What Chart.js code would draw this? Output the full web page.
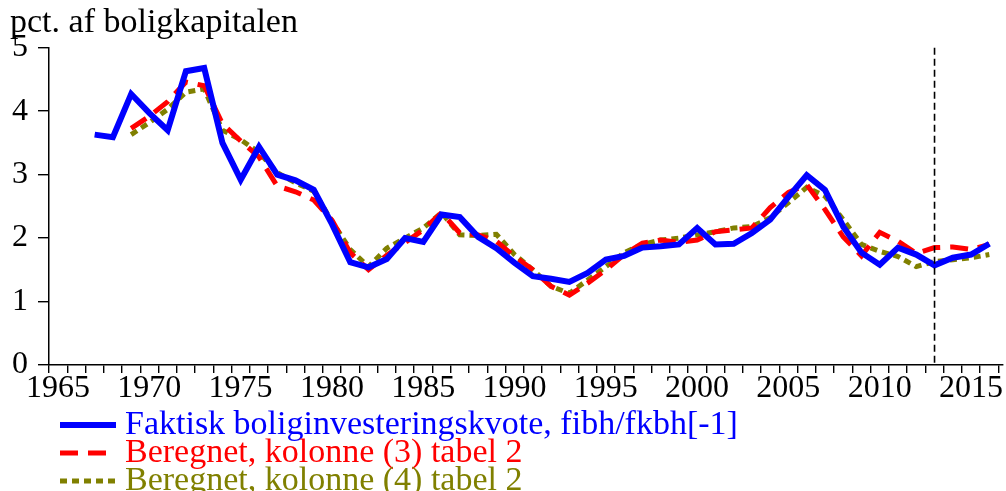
<!DOCTYPE html>
<html>
<head>
<meta charset="utf-8">
<script src="https://cdn.jsdelivr.net/npm/chart.js@4.4.1/dist/chart.umd.min.js"></script>
<style>
  html, body { margin: 0; padding: 0; background: #fff; }
</style>
</head>
<body>
<canvas id="chart" width="1006" height="491"></canvas>
<script>
// annual values, pct. af boligkapitalen
const years = [1967, 1968, 1969, 1970, 1971, 1972, 1973, 1974, 1975, 1976,
  1977, 1978, 1979, 1980, 1981, 1982, 1983, 1984, 1985, 1986,
  1987, 1988, 1989, 1990, 1991, 1992, 1993, 1994, 1995, 1996,
  1997, 1998, 1999, 2000, 2001, 2002, 2003, 2004, 2005, 2006,
  2007, 2008, 2009, 2010, 2011, 2012, 2013, 2014, 2015, 2016];

const faktisk = [3.63, 3.59, 4.27, 3.97, 3.70, 4.63, 4.68, 3.50, 2.92, 3.44,
  3.00, 2.91, 2.76, 2.22, 1.62, 1.54, 1.67, 2.00, 1.94, 2.37,
  2.33, 2.02, 1.84, 1.61, 1.40, 1.36, 1.31, 1.45, 1.66, 1.72,
  1.85, 1.87, 1.90, 2.16, 1.90, 1.91, 2.08, 2.29, 2.65, 2.99,
  2.76, 2.18, 1.77, 1.58, 1.85, 1.74, 1.57, 1.69, 1.74, 1.91];

const kolonne3 = [null, null, 3.73, 3.92, 4.15, 4.46, 4.40, 3.80, 3.53, 3.28,
  2.82, 2.73, 2.60, 2.28, 1.77, 1.50, 1.73, 1.93, 2.13, 2.40,
  2.08, 2.05, 1.95, 1.71, 1.50, 1.24, 1.10, 1.29, 1.50, 1.74,
  1.92, 1.97, 1.93, 1.97, 2.10, 2.13, 2.16, 2.48, 2.72, 2.84,
  2.45, 2.02, 1.72, 2.09, 1.95, 1.76, 1.85, 1.86, 1.82, 1.90];

const kolonne4 = [null, null, 3.63, 3.82, 4.03, 4.30, 4.35, 3.70, 3.55, 3.35,
  3.03, 2.87, 2.74, 2.26, 1.82, 1.55, 1.84, 2.00, 2.16, 2.40,
  2.05, 2.04, 2.06, 1.74, 1.50, 1.24, 1.13, 1.34, 1.55, 1.77,
  1.90, 1.97, 2.00, 2.05, 2.10, 2.16, 2.18, 2.32, 2.56, 2.80,
  2.66, 2.29, 1.90, 1.79, 1.71, 1.55, 1.63, 1.66, 1.69, 1.74];

const seriesLabels = [
  'Faktisk boliginvesteringskvote, fibh/fkbh[-1]',
  'Beregnet, kolonne (3) tabel 2',
  'Beregnet, kolonne (4) tabel 2'
];
const xTickLabels = ['1965', '1970', '1975', '1980', '1985', '1990', '1995', '2000', '2005', '2010', '2015'];
const yTickLabels = ['0', '1', '2', '3', '4', '5'];
const forecastStart = 2013; // dashed vertical line

// each annual value sits in the middle of its year
const toPoints = (vals) => years.map((yr, i) => ({ x: yr + 0.5, y: vals[i] }));

const FONT = "'Liberation Serif', 'Times New Roman', serif";
Chart.defaults.font.family = FONT;
Chart.defaults.color = '#000';

const markerLine = {
  id: 'markerLine',
  afterDatasetsDraw(chart) {
    const { ctx, chartArea, scales } = chart;
    const x = scales.x.getPixelForValue(forecastStart + 0.5);
    ctx.save();
    ctx.strokeStyle = '#000';
    ctx.lineWidth = 1.6;
    ctx.setLineDash([7, 4]);
    ctx.beginPath();
    ctx.moveTo(x, chartArea.top);
    ctx.lineTo(x, chartArea.bottom);
    ctx.stroke();
    ctx.restore();
  }
};

// legend: one row per series under the x axis, text in series colour
const rowLegend = {
  id: 'rowLegend',
  afterDraw(chart) {
    const { ctx, chartArea } = chart;
    ctx.save();
    ctx.font = '34px ' + FONT;
    ctx.textBaseline = 'middle';
    ctx.textAlign = 'left';
    chart.data.datasets.forEach((ds, i) => {
      const y = chartArea.bottom + 60 + i * 28;
      ctx.strokeStyle = ds.borderColor;
      ctx.lineWidth = ds.borderWidth;
      ctx.lineCap = 'butt';
      ctx.setLineDash(ds.borderDash);
      ctx.beginPath();
      ctx.moveTo(60, y);
      ctx.lineTo(116, y);
      ctx.stroke();
      ctx.fillStyle = ds.borderColor;
      ctx.fillText(ds.label, 125, y);
    });
    ctx.restore();
  }
};

new Chart(document.getElementById('chart'), {
  type: 'line',
  data: {
    datasets: [
      {
        label: seriesLabels[0],
        data: toPoints(faktisk),
        borderColor: '#0000ff',
        backgroundColor: '#0000ff',
        borderWidth: 6,
        borderDash: []
      },
      {
        label: seriesLabels[1],
        data: toPoints(kolonne3),
        borderColor: '#ff0000',
        backgroundColor: '#ff0000',
        borderWidth: 5,
        borderDash: [18, 10]
      },
      {
        label: seriesLabels[2],
        data: toPoints(kolonne4),
        borderColor: '#808000',
        backgroundColor: '#808000',
        borderWidth: 5,
        borderDash: [7, 5]
      }
    ]
  },
  options: {
    responsive: false,
    animation: false,
    layout: { padding: { left: 10, right: 3, top: 0, bottom: 86 } },
    elements: {
      point: { radius: 0, hoverRadius: 0 },
      line: { tension: 0, borderCapStyle: 'butt', borderJoinStyle: 'miter' }
    },
    scales: {
      x: {
        type: 'linear',
        min: 1965,
        max: 2017.25,
        afterBuildTicks: (scale) => {
          const t = [];
          for (let yr = 1965; yr <= 2017; yr++) t.push({ value: yr });
          scale.ticks = t;
        },
        ticks: {
          autoSkip: false,
          maxRotation: 0,
          minRotation: 0,
          padding: 0,
          labelOffset: 9,
          color: '#000',
          font: { size: 32, lineHeight: 1 },
          callback: (v) => xTickLabels.includes(String(v)) ? String(v) : ''
        },
        grid: { drawOnChartArea: false, drawTicks: true, tickLength: 8, color: '#000', lineWidth: 1.4 },
        border: { display: true, color: '#000', width: 1.5 }
      },
      y: {
        min: 0,
        max: 5,
        afterFit: (scale) => { scale.width = 39; },
        ticks: {
          stepSize: 1,
          padding: 10,
          color: '#000',
          font: { size: 32 },
          callback: (v) => yTickLabels[v] ?? ''
        },
        grid: { drawOnChartArea: false, drawTicks: true, tickLength: 11, color: '#000', lineWidth: 1.4 },
        border: { display: true, color: '#000', width: 1.5 }
      }
    },
    plugins: {
      title: {
        display: true,
        text: 'pct. af boligkapitalen',
        align: 'start',
        color: '#000',
        font: { size: 34, weight: 'normal', lineHeight: 1.05 },
        padding: { top: 5, bottom: 7 }
      },
      legend: { display: false },
      tooltip: { enabled: false }
    }
  },
  plugins: [markerLine, rowLegend]
});
</script>
</body>
</html>
